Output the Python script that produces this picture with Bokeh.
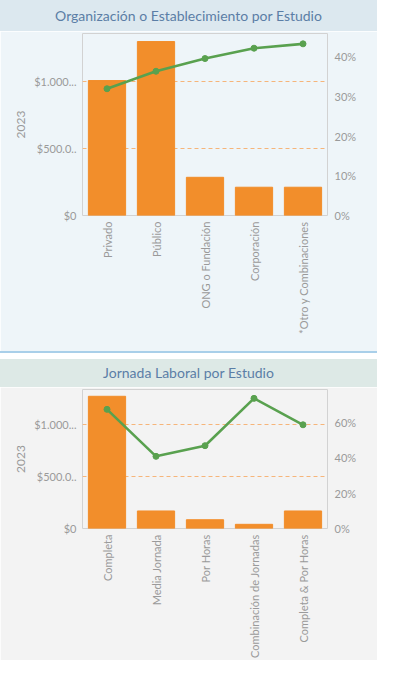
from math import pi
from bokeh.plotting import figure
from bokeh.models import (LinearAxis, Range1d, FixedTicker, NumeralTickFormatter, Div)
from bokeh.layouts import column
from bokeh.embed import file_html
from bokeh.resources import INLINE

# ---- data ----
title1 = "Organización o Establecimiento por Estudio"
cats1 = ["Privado", "Público", "ONG o Fundación", "Corporación", "*Otro y Combinaciones"]
vals1 = [1007000, 1298000, 285000, 211000, 211000]
pct1 = [0.319, 0.363, 0.395, 0.421, 0.432]

title2 = "Jornada Laboral por Estudio"
cats2 = ["Completa", "Media Jornada", "Por Horas", "Combinación de Jornadas", "Completa & Por Horas"]
vals2 = [1266000, 168000, 84000, 40000, 168000]
pct2 = [0.672, 0.407, 0.467, 0.734, 0.585]

left_ticks = [0, 500000, 1000000]
left_labels = {0: "$0", 500000: "$500.0..", 1000000: "$1.000..."}
right_ticks1 = [0, 0.1, 0.2, 0.3, 0.4]
right_ticks2 = [0, 0.2, 0.4, 0.6]

FONT = "Lato"
W = 377
BAR = "#f28e2b"
LINE = "#59a14f"
GRID = "#f6b57a"
LBL = "#9a9a9a"


def make_panel(cats, vals, pct, ymax, pmax, rticks, bg, height, frame_h):
    p = figure(x_range=cats, y_range=Range1d(0, ymax), width=W, height=height,
               output_backend="svg", toolbar_location=None,
               min_border_left=82, min_border_right=50, min_border_top=2,
               min_border_bottom=height - 2 - frame_h)
    p.background_fill_color = bg
    p.border_fill_color = bg
    p.outline_line_color = "#d2d2d2"
    p.xgrid.grid_line_color = None
    p.ygrid.ticker = FixedTicker(ticks=[t for t in left_ticks if t > 0])
    p.ygrid.grid_line_color = GRID
    p.ygrid.grid_line_dash = "4 3"
    p.ygrid.grid_line_width = 1

    p.vbar(x=cats, top=vals, width=0.76, color=BAR)

    p.extra_y_ranges = {"pct": Range1d(0, pmax)}
    p.line(x=cats, y=pct, y_range_name="pct", color=LINE, line_width=2.6)
    p.scatter(x=cats, y=pct, y_range_name="pct", color=LINE, size=6)

    ya = p.yaxis[0]
    ya.ticker = FixedTicker(ticks=left_ticks)
    ya.major_label_overrides = left_labels
    ya.axis_label = "2023"
    ya.axis_label_text_font_style = "normal"
    ya.axis_label_text_font = FONT
    ya.axis_label_text_font_size = "12px"
    ya.axis_label_text_color = LBL
    ya.axis_label_standoff = 6

    ra = LinearAxis(y_range_name="pct", ticker=FixedTicker(ticks=rticks),
                    formatter=NumeralTickFormatter(format="0%"))
    p.add_layout(ra, "right")

    for ax in [p.yaxis[0], ra, p.xaxis[0]]:
        ax.axis_line_color = None
        ax.major_tick_line_color = None
        ax.minor_tick_line_color = None
        ax.major_tick_out = 0
        ax.major_tick_in = 0
        ax.major_label_text_color = LBL
        ax.major_label_text_font = FONT
        ax.major_label_text_font_size = "11px"
    p.yaxis[0].major_label_standoff = 6
    ra.major_label_standoff = 7
    xa = p.xaxis[0]
    xa.major_label_orientation = pi / 2
    xa.major_label_standoff = 6
    return p


def title_div(text, bg, h):
    return Div(text=text, width=W, height=h, margin=0,
               styles={"background-color": bg, "text-align": "center",
                       "font-family": FONT, "font-size": "14px", "color": "#5b7ea6",
                       "line-height": f"{h}px", "width": f"{W}px", "height": f"{h}px",
                       "overflow": "hidden", "white-space": "nowrap"})


t1 = title_div(title1, "#dce8ef", 31)
p1 = make_panel(cats1, vals1, pct1, 1358000, 0.458, right_ticks1, "#eef5f9", 320, 182)
gap = Div(text="", width=W, height=8, margin=0,
          styles={"background": "linear-gradient(#a9cfe9 0px, #a9cfe9 2px, #ffffff 2px)",
                  "width": f"{W}px", "height": "8px"})
t2 = title_div(title2, "#dde9e6", 28)
p2 = make_panel(cats2, vals2, pct2, 1331000, 0.784, right_ticks2, "#f3f3f3", 273, 143)

layout = column(t1, p1, gap, t2, p2, spacing=0)

with open("out.html", "w") as f:
    f.write(file_html(layout, INLINE))
